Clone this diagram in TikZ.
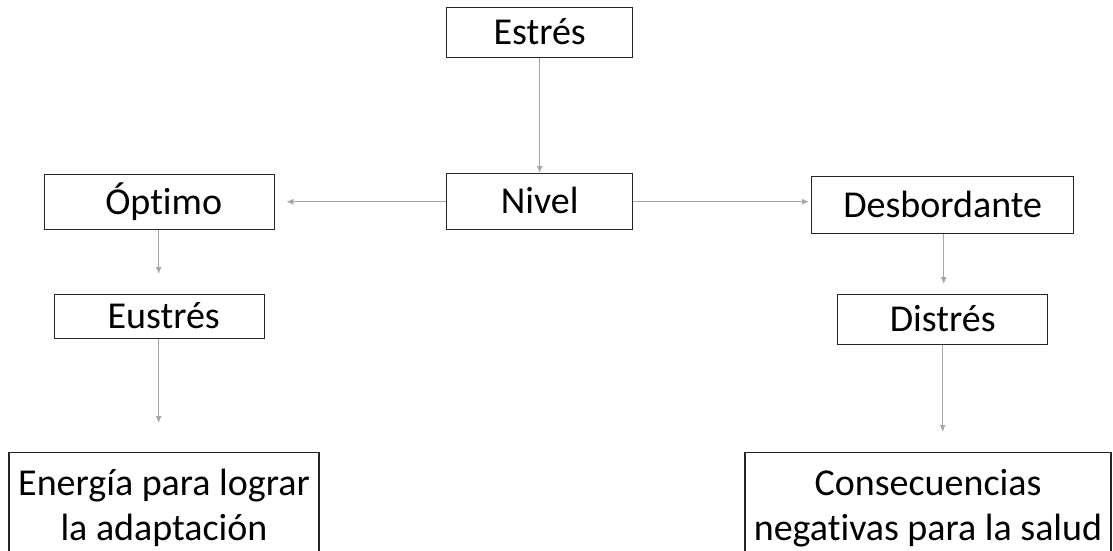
\documentclass[tikz,border=0pt]{standalone}
\usepackage{fontspec}
\setmainfont[Ligatures={NoCommon}]{Carlito}
\usetikzlibrary{arrows.meta}
\definecolor{linkgray}{HTML}{A6A6A6}
\begin{document}
\begin{tikzpicture}[x=1pt,y=-1pt,
  box/.style={draw=black!85, line width=1.4pt, inner sep=0pt, anchor=north west,
    font=\fontsize{38}{45}\selectfont, text height=24pt, text depth=0pt},
  bigbox/.style={draw=black!85, line width=1.4pt, inner xsep=0pt, inner ysep=13pt,
    anchor=north, align=center, font=\fontsize{38}{45}\selectfont},
  link/.style={draw=linkgray, line width=1pt, -{Latex[length=7pt,width=6pt]}}]
\path[use as bounding box, clip] (0,0) rectangle (1113,550);
\fill[white] (0,0) rectangle (1113,550);

% boxes
\node[box, minimum width=186, minimum height=50] (estres) at (446,7) {Estrés};
\node[box, minimum width=186, minimum height=56] (nivel) at (446,173) {Nivel};
\node[box, minimum width=230, minimum height=55] (optimo) at (44,174) {\hspace{8pt}Óptimo};
\node[box, minimum width=210, minimum height=44] (eustres) at (54,294) {\hspace{8pt}Eustrés};
\node[box, minimum width=262, minimum height=57] (desb) at (811,176) {Desbordante};
\node[box, minimum width=210, minimum height=50] (distres) at (837,294) {Distrés};
\node[bigbox, minimum width=310] (energia) at (164,452)
  {\rule{0pt}{30pt}Energía para lograr\\la adaptación};
\node[bigbox, minimum width=366] (consec) at (928,452)
  {\rule{0pt}{30pt}Consecuencias\\negativas para la salud};

% connectors
\draw[link] (estres.south) -- (nivel.north);
\draw[link, shorten >=11pt] (nivel.west) -- (nivel.west -| optimo.east);
\draw[link, shorten >=2pt] (nivel.east) -- (nivel.east -| desb.west);
\draw[link, shorten >=20pt] ([xshift=-1pt]optimo.south) -- ([xshift=-1pt]optimo.south |- eustres.north);
\draw[link, shorten >=29pt] ([xshift=-1pt]eustres.south) -- ([xshift=-1pt]eustres.south |- energia.north);
\draw[link, shorten >=10pt] ([xshift=1pt]desb.south) -- ([xshift=1pt]desb.south |- distres.north);
\draw[link, shorten >=20pt] (distres.south) -- (distres.south |- consec.north);
\end{tikzpicture}
\end{document}
